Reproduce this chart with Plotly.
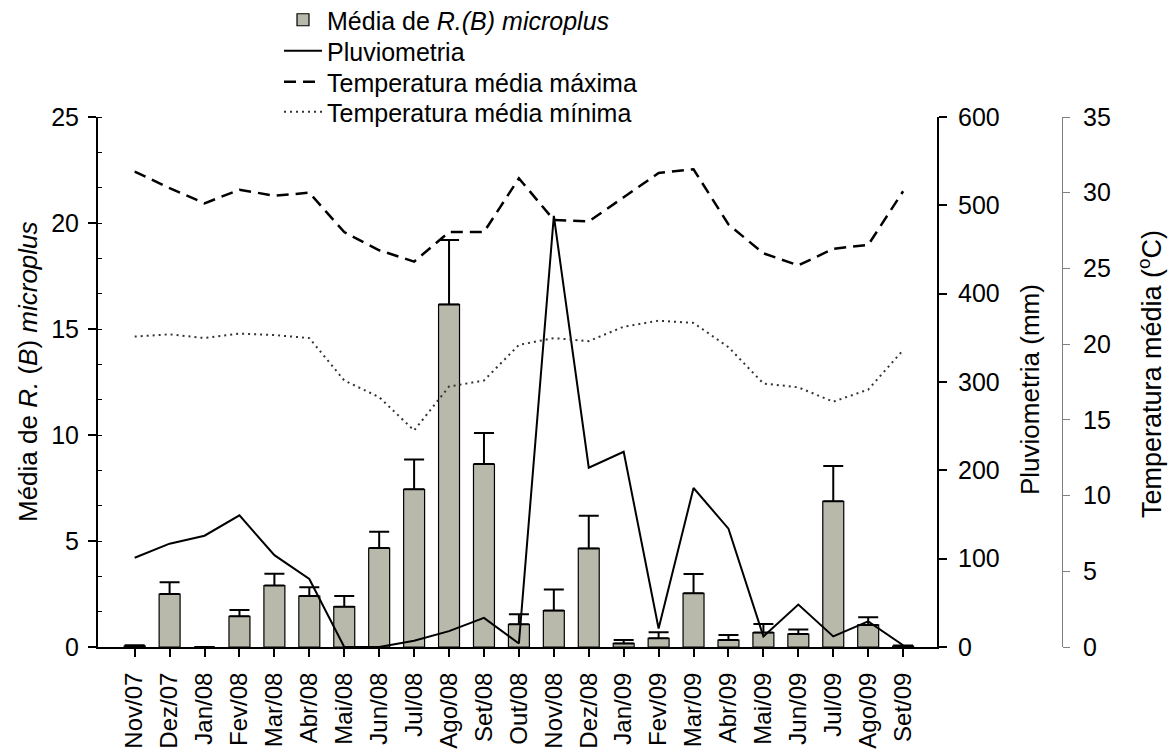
import plotly.graph_objects as go

months = ["Nov/07", "Dez/07", "Jan/08", "Fev/08", "Mar/08", "Abr/08", "Mai/08", "Jun/08",
          "Jul/08", "Ago/08", "Set/08", "Out/08", "Nov/08", "Dez/08", "Jan/09", "Fev/09",
          "Mar/09", "Abr/09", "Mai/09", "Jun/09", "Jul/09", "Ago/09", "Set/09"]

tick_mean = [0.05, 2.5, 0.0, 1.45, 2.9, 2.4, 1.9, 4.67, 7.44, 16.16, 8.63, 1.07, 1.72,
             4.65, 0.17, 0.41, 2.53, 0.33, 0.68, 0.61, 6.87, 1.04, 0.04]
tick_err = [0.03, 0.55, 0.0, 0.3, 0.55, 0.42, 0.5, 0.77, 1.41, 3.04, 1.47, 0.47, 0.99,
            1.54, 0.16, 0.28, 0.91, 0.24, 0.4, 0.22, 1.67, 0.36, 0.03]

rain = [101, 117, 126, 149, 104, 77, 0, 0, 7, 18, 33, 4, 488, 203, 221, 21, 180, 134,
        12, 48, 12, 29, 2]

tmax = [31.4, 30.3, 29.3, 30.2, 29.8, 30.0, 27.4, 26.2, 25.45, 27.4, 27.4, 30.95, 28.2,
        28.1, 29.7, 31.3, 31.55, 27.9, 26.0, 25.2, 26.3, 26.55, 30.1]
tmin = [20.5, 20.65, 20.4, 20.7, 20.6, 20.4, 17.6, 16.5, 14.3, 17.2, 17.6, 19.95, 20.4,
        20.2, 21.15, 21.55, 21.4, 19.8, 17.4, 17.15, 16.2, 17.0, 19.6]

FONT = "Liberation Sans, Arial, sans-serif"
W, H = 1174, 754
L, R, T, B = 98, 112, 117, 107
pw = W - L - R
ph = H - T - B
xdom_end = (937 - L) / pw


def px_x(px):
    return (px - L) / pw


def px_y(py):
    return (H - B - py) / ph


fig = go.Figure()

fig.add_trace(go.Bar(
    x=months, y=tick_mean, name="Média de <i>R.(B) microplus</i>",
    marker=dict(color="#b9b9ab", line=dict(color="black", width=1.2)),
    width=0.6,
    error_y=dict(type="data", array=tick_err, arrayminus=[0] * len(tick_err),
                 symmetric=False, color="black", thickness=2, width=10),
    xaxis="x", yaxis="y", legend="legend",
))

fig.add_trace(go.Scatter(
    x=months, y=rain, name="Pluviometria", mode="lines",
    line=dict(color="black", width=2), yaxis="y2", legend="legend2",
))

fig.add_trace(go.Scatter(
    x=months, y=tmax, name="Temperatura média máxima", mode="lines",
    line=dict(color="black", width=2.5, dash="12px,7px"), yaxis="y3", legend="legend3",
))

fig.add_trace(go.Scatter(
    x=months, y=tmin, name="Temperatura média mínima", mode="lines",
    line=dict(color="#333333", width=2, dash="2px,4px"), yaxis="y3", legend="legend4",
))

tick_font = dict(family=FONT, size=25, color="black")
leg_font = dict(family=FONT, size=25, color="black")


def legend_at(py):
    return dict(x=px_x(279), y=px_y(py), xanchor="left", yanchor="middle",
                font=leg_font, bgcolor="rgba(0,0,0,0)", itemwidth=38)


fig.update_layout(
    width=W, height=H,
    margin=dict(l=L, r=R, t=T, b=B, autoexpand=False),
    paper_bgcolor="white", plot_bgcolor="white",
    font=dict(family=FONT, size=25, color="black"),
    showlegend=True,
    legend=legend_at(20),
    legend2=legend_at(51),
    legend3=legend_at(82),
    legend4=legend_at(112),
    bargap=0.4,
    xaxis=dict(
        domain=[0, xdom_end], type="category", range=[-1.05, 22.97],
        showline=True, linecolor="black", linewidth=2,
        ticks="outside", ticklen=8, tickwidth=1.5, tickcolor="black",
        tickangle=-90, tickfont=dict(family=FONT, size=24, color="black"),
        ticklabelstandoff=6,
        showgrid=False, zeroline=False, automargin=False,
    ),
    yaxis=dict(
        range=[0, 25], dtick=5, tick0=0,
        showline=True, linecolor="black", linewidth=2,
        ticks="outside", ticklen=8, tickwidth=1.5, tickcolor="black",
        minor=dict(dtick=5 / 3, ticks="inside", ticklen=4, tickcolor="black", tickwidth=1),
        tickfont=tick_font, ticklabelstandoff=4,
        showgrid=False, zeroline=False, automargin=False,
    ),
    yaxis2=dict(
        range=[0, 600], dtick=100, tick0=0, overlaying="y", side="right", anchor="x",
        showline=True, linecolor="black", linewidth=2,
        ticks="outside", ticklen=8, tickwidth=1.5, tickcolor="black",
        tickfont=tick_font, ticklabelstandoff=6,
        showgrid=False, zeroline=False, automargin=False,
    ),
    yaxis3=dict(
        range=[0, 35], dtick=5, tick0=0, overlaying="y", side="right",
        anchor="free", position=1.0,
        showline=True, linecolor="#808080", linewidth=1.2,
        ticks="outside", ticklen=7, tickwidth=1.2, tickcolor="#808080",
        tickfont=tick_font, ticklabelstandoff=8,
        showgrid=False, zeroline=False, automargin=False,
    ),
    annotations=[
        dict(text="Média de <i>R.</i> (<i>B</i>) <i>microplus</i>", textangle=-90,
             x=px_x(28), y=px_y(372), xref="paper", yref="paper",
             xanchor="center", yanchor="middle", showarrow=False,
             font=dict(family=FONT, size=26, color="black")),
        dict(text="Pluviometria (mm)", textangle=-90,
             x=px_x(1030), y=px_y(390), xref="paper", yref="paper",
             xanchor="center", yanchor="middle", showarrow=False,
             font=dict(family=FONT, size=26, color="black")),
        dict(text="Temperatura média (<sup>o</sup>C)", textangle=-90,
             x=px_x(1150), y=px_y(374), xref="paper", yref="paper",
             xanchor="center", yanchor="middle", showarrow=False,
             font=dict(family=FONT, size=27, color="black")),
    ],
)

fig.write_html("out.html")
